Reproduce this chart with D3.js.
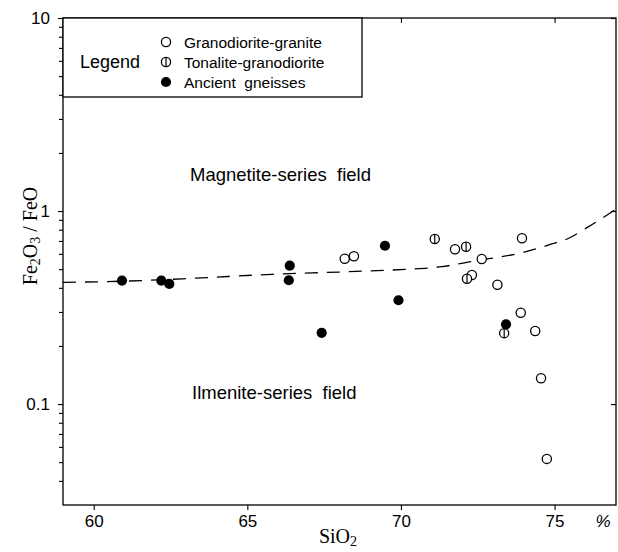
<!DOCTYPE html>
<html>
<head>
<meta charset="utf-8">
<script src="https://cdn.jsdelivr.net/npm/d3@7"></script>
<style>
  body { margin: 0; background: #fff; }
  svg { display: block; }
  .sans { font-family: "Liberation Sans", Arial, sans-serif; }
  .serif { font-family: "Liberation Serif", "Times New Roman", serif; }
</style>
</head>
<body>
<svg width="618" height="552"></svg>
<script>
// values
let graniteSiO2 = [68.17, 68.47, 71.76, 72.63, 72.31, 73.14, 73.94, 73.90, 74.37, 74.56, 74.75];
let graniteRatio = [0.566, 0.583, 0.634, 0.564, 0.466, 0.415, 0.723, 0.297, 0.239, 0.136, 0.052];

let tonaliteSiO2 = [71.10, 72.12, 72.15, 73.36];
let tonaliteRatio = [0.716, 0.653, 0.446, 0.233];

let gneissSiO2 = [60.92, 62.20, 62.46, 66.38, 66.35, 67.42, 69.48, 69.92, 73.42];
let gneissRatio = [0.436, 0.436, 0.419, 0.521, 0.438, 0.234, 0.661, 0.345, 0.259];

// dashed boundary between the two fields
let boundarySiO2 = [59.0, 61.14, 63.2, 65.8, 68.3, 70.14, 71.33, 72.27, 74.16, 74.91, 75.46, 76.11, 76.95];
let boundaryRatio = [0.427, 0.434, 0.448, 0.470, 0.485, 0.499, 0.515, 0.547, 0.621, 0.675, 0.723, 0.830, 1.01];

let xTicks = [60, 65, 70, 75];
let yTicks = [0.1, 1, 10];
let yTickLabels = ["0.1", "1", "10"];
let yMinorTicks = [0.04, 0.05, 0.06, 0.07, 0.08, 0.09,
  0.2, 0.3, 0.4, 0.5, 0.6, 0.7, 0.8, 0.9,
  2, 3, 4, 5, 6, 7, 8, 9];

let legendLabels = ["Granodiorite-granite", "Tonalite-granodiorite", "Ancient  gneisses"];

let svg = d3.select('svg');
let padLeft = 63, padRight = 616, padTop = 18, padBottom = 505;

let xScale = d3.scaleLinear().domain([59, 77]).range([padLeft, padRight]);
let yScale = d3.scaleLog().domain([0.03, 10]).range([padBottom, padTop]);

// axes
let styleAxis = g => {
    g.select('.domain').remove();
    g.selectAll('line').attr('stroke', '#000').attr('stroke-width', 1.1);
    g.selectAll('text').attr('class', 'sans').attr('font-size', 17).attr('fill', '#000');
};

svg.append('g')
    .attr('transform', 'translate(0,' + padBottom + ')')
    .call(d3.axisBottom(xScale).tickValues(xTicks).tickSize(5).tickPadding(5).tickFormat(d3.format('d')))
    .call(styleAxis);

svg.append('g')
    .attr('transform', 'translate(0,' + padTop + ')')
    .call(d3.axisTop(xScale).tickValues(xTicks).tickSize(-5).tickFormat(''))
    .call(styleAxis);

svg.append('g')
    .attr('transform', 'translate(' + padLeft + ',0)')
    .call(d3.axisLeft(yScale).tickValues(yTicks).tickSize(5).tickPadding(8)
        .tickFormat((d, i) => yTickLabels[i]))
    .call(styleAxis);

svg.append('g')
    .attr('transform', 'translate(' + padLeft + ',0)')
    .call(d3.axisLeft(yScale).tickValues(yMinorTicks).tickSize(4).tickFormat(''))
    .call(styleAxis);

svg.append('g')
    .attr('transform', 'translate(' + padRight + ',0)')
    .call(d3.axisRight(yScale).tickValues(yTicks).tickSize(-5).tickFormat(''))
    .call(styleAxis);

// frame
svg.append('rect')
    .attr('x', padLeft).attr('y', padTop)
    .attr('width', padRight - padLeft).attr('height', padBottom - padTop)
    .attr('fill', 'none').attr('stroke', '#000').attr('stroke-width', 1.3);

svg.append('text')
    .attr('class', 'sans')
    .attr('x', 603).attr('y', 527)
    .attr('font-size', 17).attr('font-style', 'italic').attr('text-anchor', 'middle')
    .text('%');

// axis titles
let xTitle = svg.append('text')
    .attr('class', 'serif')
    .attr('x', 338).attr('y', 543)
    .attr('font-size', 20).attr('text-anchor', 'middle');
xTitle.append('tspan').text('SiO');
xTitle.append('tspan').attr('font-size', 14).attr('dy', 3).text('2');

let yTitle = svg.append('text')
    .attr('class', 'serif')
    .attr('transform', 'translate(37,236) rotate(-90)')
    .attr('font-size', 20).attr('text-anchor', 'middle')
    .style('white-space', 'pre');
yTitle.append('tspan').text('Fe');
yTitle.append('tspan').attr('font-size', 14).attr('dy', 3).text('2');
yTitle.append('tspan').attr('dy', -3).text('O');
yTitle.append('tspan').attr('font-size', 14).attr('dy', 3).text('3');
yTitle.append('tspan').attr('dy', -3).text(' / FeO');

// field labels
svg.append('text')
    .attr('class', 'sans').attr('font-size', 18.5)
    .attr('x', 190).attr('y', 181)
    .style('white-space', 'pre')
    .text('Magnetite-series  field');

svg.append('text')
    .attr('class', 'sans').attr('font-size', 18.5)
    .attr('x', 192).attr('y', 399)
    .style('white-space', 'pre')
    .text('Ilmenite-series  field');

// boundary curve
let boundary = boundarySiO2.map((d, i) => [d, boundaryRatio[i]]);
svg.append('path')
    .datum(boundary)
    .attr('fill', 'none')
    .attr('stroke', '#000')
    .attr('stroke-width', 1.3)
    .attr('stroke-dasharray', '13,9')
    .attr('d', d3.line()
        .x(d => xScale(d[0]))
        .y(d => yScale(d[1]))
        .curve(d3.curveMonotoneX));

// markers
let r = 4.6;

let drawOpen = (g, cx, cy) => {
    g.append('circle').attr('cx', cx).attr('cy', cy).attr('r', r)
        .attr('fill', '#fff').attr('stroke', '#000').attr('stroke-width', 1.3);
};
let drawTonalite = (g, cx, cy) => {
    drawOpen(g, cx, cy);
    g.append('line').attr('x1', cx).attr('x2', cx).attr('y1', cy - r).attr('y2', cy + r)
        .attr('stroke', '#000').attr('stroke-width', 1.2);
};
let drawFilled = (g, cx, cy) => {
    g.append('circle').attr('cx', cx).attr('cy', cy).attr('r', r + 0.5).attr('fill', '#000');
};

let pts = svg.append('g');
graniteSiO2.forEach((d, i) => drawOpen(pts, xScale(d), yScale(graniteRatio[i])));
tonaliteSiO2.forEach((d, i) => drawTonalite(pts, xScale(d), yScale(tonaliteRatio[i])));
gneissSiO2.forEach((d, i) => drawFilled(pts, xScale(d), yScale(gneissRatio[i])));

// legend
let legend = svg.append('g');
legend.append('rect')
    .attr('x', padLeft).attr('y', padTop)
    .attr('width', 362 - padLeft).attr('height', 97 - padTop)
    .attr('fill', '#fff').attr('stroke', '#000').attr('stroke-width', 1.3);

legend.append('text')
    .attr('class', 'sans').attr('font-size', 18)
    .attr('x', 80).attr('y', 68)
    .text('Legend');

let rowY = [42, 62, 82];
let drawers = [drawOpen, drawTonalite, drawFilled];
legendLabels.forEach((label, i) => {
    drawers[i](legend, 166, rowY[i]);
    legend.append('text')
        .attr('class', 'sans').attr('font-size', 15.5)
        .attr('x', 184).attr('y', rowY[i] + 5.5)
        .style('white-space', 'pre')
        .text(label);
});
</script>
</body>
</html>
